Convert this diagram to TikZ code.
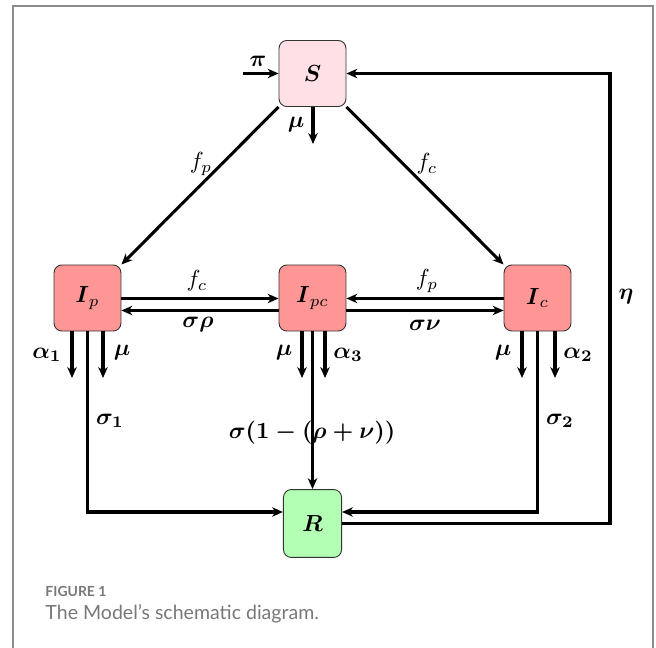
\documentclass[tikz,border=0pt]{standalone}
\usepackage{amsmath}
\usepackage{fontspec}
\newfontfamily\capfont{Lato}
\usetikzlibrary{arrows.meta,calc}
\definecolor{spink}{RGB}{255,224,230}
\definecolor{ired}{RGB}{255,150,150}
\definecolor{rgreen}{RGB}{179,255,179}
\definecolor{framegray}{RGB}{140,140,140}
\definecolor{capgray}{RGB}{120,120,120}
\tikzset{
  box/.style={draw=black!80, line width=0.4pt, rounded corners=3.4pt, minimum width=28.8pt, minimum height=28.4pt, inner sep=0pt},
  arr/.style={line width=1.3pt, -{Stealth[length=4.6pt,width=4pt,inset=1.3pt]}},
  ln/.style={line width=1.3pt},
  lab/.style={inner sep=0pt}
}
\begin{document}
\begin{tikzpicture}[x=0.43pt,y=-0.43pt]
\useasboundingbox (0,0) rectangle (656,648);
% frame
\draw[framegray, line width=0.9pt] (13,648) -- (13,6) -- (653,6) -- (653,648);
% boxes
\node[box, fill=spink] (S) at (312.5,73.5) {$\boldsymbol{S}$};
\node[box, fill=ired] (Ip) at (87.5,298) {$\boldsymbol{I}_p$};
\node[box, fill=ired] (Ipc) at (312.5,298) {$\boldsymbol{I}_{pc}$};
\node[box, fill=ired] (Ic) at (537.5,298) {$\boldsymbol{I}_c$};
\node[box, fill=rgreen, minimum width=25pt, minimum height=29.2pt] (R) at (312.5,523.5) {$\boldsymbol{R}$};
% coordinates
\coordinate (pin) at (243,73.5);
\coordinate (Smu) at (313,144);
\coordinate (Ipa) at (72,378);
\coordinate (Ipm) at (103,378);
\coordinate (Ipcm) at (302,378);
\coordinate (Ipca) at (325,378);
\coordinate (Icm) at (522,378);
\coordinate (Ica) at (555,378);
\coordinate (etaX) at (610,0);
% S arrows
\draw[arr] (pin) -- (S.west);
\draw[arr] (S.south -| Smu) -- (Smu);
\draw[arr] (S.south west) -- (Ip.north east);
\draw[arr] (S.south east) -- (Ic.north west);
% horizontal pairs
\draw[arr] ($(Ip.east)+(0,0.5)$) -- ($(Ipc.west)+(0,0.5)$);
\draw[arr] ($(Ipc.west)+(0,12.5)$) -- ($(Ip.east)+(0,12.5)$);
\draw[arr] ($(Ic.west)+(0,0.5)$) -- ($(Ipc.east)+(0,0.5)$);
\draw[arr] ($(Ipc.east)+(0,12.5)$) -- ($(Ic.west)+(0,12.5)$);
% outflows
\draw[arr] (Ip.south -| Ipa) -- (Ipa);
\draw[arr] (Ip.south -| Ipm) -- (Ipm);
\draw[arr] (Ipc.south -| Ipcm) -- (Ipcm);
\draw[arr] (Ipc.south -| Ipca) -- (Ipca);
\draw[arr] (Ic.south -| Icm) -- (Icm);
\draw[arr] (Ic.south -| Ica) -- (Ica);
% recovery
\draw[arr] (Ip.south) -- (Ip.south |- 0,512) -- (R.west |- 0,512);
\draw[arr] (Ipc.south) -- (R.north);
\draw[arr] (Ic.south) -- (Ic.south |- 0,512) -- (R.east |- 0,512);
\draw[arr] (R.east) -- (R.east -| etaX) -- (etaX |- S.east) -- (S.east);
% labels
\node[lab] (lpi) at (258,61) {$\boldsymbol{\pi}$};
\node[lab] (lmuS) at (296,125) {$\boldsymbol{\mu}$};
\node[lab] (lfp1) at (201,164) {$f_p$};
\node[lab] (lfc1) at (427,164) {$f_c$};
\node[lab] (lfc2) at (197,281) {$f_c$};
\node[lab] (lsr) at (198,325) {$\boldsymbol{\sigma\rho}$};
\node[lab] (lfp2) at (427,281) {$f_p$};
\node[lab] (lsn) at (425,325) {$\boldsymbol{\sigma\nu}$};
\node[lab] (la1) at (47,355) {$\boldsymbol{\alpha_1}$};
\node[lab] (lm1) at (122,353) {$\boldsymbol{\mu}$};
\node[lab] (lm2) at (284,353) {$\boldsymbol{\mu}$};
\node[lab] (la3) at (348,355) {$\boldsymbol{\alpha_3}$};
\node[lab] (lm3) at (503,353) {$\boldsymbol{\mu}$};
\node[lab] (la2) at (578,355) {$\boldsymbol{\alpha_2}$};
\node[lab] (leta) at (626,297) {$\boldsymbol{\eta}$};
\node[lab] (ls1) at (110,421) {$\boldsymbol{\sigma_1}$};
\node[lab] (ls2) at (560,421) {$\boldsymbol{\sigma_2}$};
\node[lab] (ls3) at (312,433) {$\boldsymbol{\sigma(1-(\rho+\nu))}$};
% caption
\node[lab, anchor=base west, text=capgray, font=\capfont\fontsize{6}{8}\selectfont\bfseries] (cap1) at (45,596) {FIGURE 1};
\node[lab, anchor=base west, text=capgray, font=\capfont\fontsize{8.4}{10}\selectfont] (cap2) at (45,619) {The Model’s schematic diagram.};
\end{tikzpicture}
\end{document}
